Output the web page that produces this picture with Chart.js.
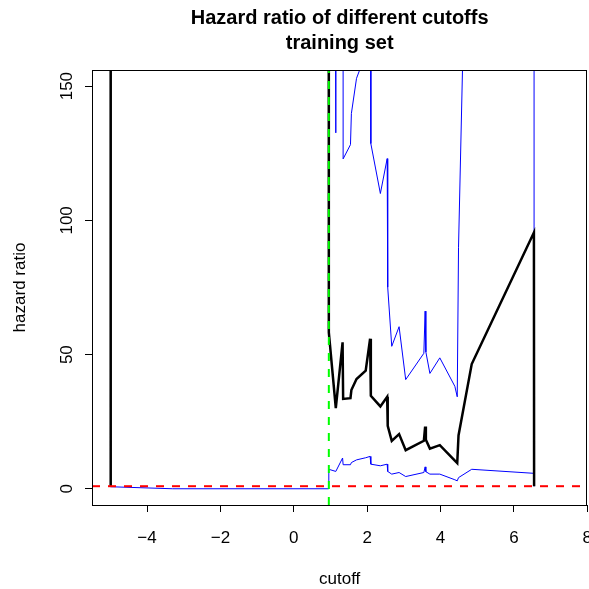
<!DOCTYPE html>
<html><head><meta charset="utf-8">
<script src="https://cdn.jsdelivr.net/npm/chart.js@4/dist/chart.umd.min.js"></script>
<style>html,body{margin:0;padding:0;background:#fff}#wrap{width:589px;height:589px}</style>
</head><body><div id="wrap"><canvas id="c" width="589" height="589" style="width:589px;height:589px"></canvas></div>
<script>
// ---- data (1000 = far above the plotted range) ----
const cutoffs     = [-5.00, -4.99, -3.30, 0.94, 0.955, 1.145, 1.33, 1.345, 1.545, 1.57, 1.71, 1.96, 2.08, 2.10, 2.36, 2.545, 2.56, 2.67, 2.87, 3.05, 3.545, 3.58, 3.60, 3.71, 3.98, 4.39, 4.455, 4.49, 4.85, 6.545, 6.55];
const hazardRatio = [1000, 1.0, null, 1000, 58.3, 30.1, 54.6, 33.5, 33.8, 36.8, 40.9, 44.0, 55.9, 34.7, 30.7, 34.3, 23.5, 17.9, 20.4, 14.4, 17.9, 23.2, 18.3, 15.0, 16.3, 10.5, 9.6, 19.9, 46.5, 95.5, 1.0];
const lowerCI     = [0.8, 0.8, 0.05, 0.05, 7.3, 6.5, 11.5, 9.0, 9.0, 9.8, 10.8, 11.6, 12.1, 9.2, 8.6, 9.2, 6.5, 5.5, 6.1, 4.6, 6.1, 8.2, 6.4, 5.5, 5.5, 3.4, 3.0, 4.2, 7.3, 5.8, 1.0];
const upperCI     = [1000, 1000, 1000, 1000, 1000, 132.6, 1000, 122.9, 128.2, 139.8, 152.9, 162, 1000, 128.6, 110, 123, 75.1, 53.1, 60.4, 40.7, 50.5, 66.2, 51.0, 43.0, 48.8, 38.2, 34.3, 90, 310, 1000, 1.0];
const xTickValues = [-4, -2, 0, 2, 4, 6, 8];
const yTickValues = [0, 50, 100, 150];
const referenceHR = 1;
const bestCutoff = 0.955;
const titleLines = ['Hazard ratio of different cutoffs', 'training set'];
const xLabel = 'cutoff';
const yLabel = 'hazard ratio';

const FONT = "'Liberation Sans', Arial, Helvetica, sans-serif";
const pts = arr => cutoffs.map((c, i) => ({x: c, y: arr[i]}));

const boxPlugin = {
  id: 'boxAndRefs',
  afterDatasetsDraw(chart) {
    const {ctx, chartArea: a, scales: {x, y}} = chart;
    ctx.save();
    ctx.beginPath(); ctx.rect(a.left, a.top, a.right - a.left, a.bottom - a.top); ctx.clip();
    const gx = x.getPixelForValue(bestCutoff);
    ctx.strokeStyle = '#00FF00'; ctx.lineWidth = 2; ctx.setLineDash([8, 8]);
    ctx.beginPath(); ctx.moveTo(gx, a.bottom); ctx.lineTo(gx, a.top); ctx.stroke();
    const ry = y.getPixelForValue(referenceHR);
    ctx.strokeStyle = '#FF0000';
    ctx.beginPath(); ctx.moveTo(a.left, ry); ctx.lineTo(a.right, ry); ctx.stroke();
    ctx.restore();
  },
  afterDraw(chart) {
    const {ctx, chartArea: a, scales: {y}} = chart;
    ctx.save();
    ctx.strokeStyle = '#000'; ctx.lineWidth = 1; ctx.setLineDash([]);
    ctx.strokeRect(Math.round(a.left) + 0.5, Math.round(a.top) + 0.5,
                   Math.round(a.right - a.left) - 1, Math.round(a.bottom - a.top));
    ctx.fillStyle = '#000';
    ctx.font = '17px ' + FONT;
    ctx.textAlign = 'center'; ctx.textBaseline = 'alphabetic';
    yTickValues.forEach(v => {
      const py = y.getPixelForValue(v);
      ctx.save(); ctx.translate(72, py); ctx.rotate(-Math.PI / 2);
      ctx.fillText(String(v), 0, 0); ctx.restore();
    });
    const cx = (a.left + a.right) / 2;
    ctx.font = 'bold 20px ' + FONT;
    ctx.fillText(titleLines[0], cx, 24);
    ctx.fillText(titleLines[1], cx, 49);
    ctx.restore();
  }
};

new Chart(document.getElementById('c'), {
  type: 'line',
  data: {
    datasets: [
      {label: 'HR', data: pts(hazardRatio), borderColor: '#000', borderWidth: 2.5, pointRadius: 0, tension: 0, spanGaps: false},
      {label: 'lower', data: pts(lowerCI), borderColor: '#0000FF', borderWidth: 1, pointRadius: 0, tension: 0},
      {label: 'upper', data: pts(upperCI), borderColor: '#0000FF', borderWidth: 1, pointRadius: 0, tension: 0}
    ]
  },
  options: {
    responsive: false, animation: false, devicePixelRatio: 1,
    layout: {padding: {left: 0, right: 1.7, top: 70, bottom: 0}},
    plugins: {legend: {display: false}, tooltip: {enabled: false}, title: {display: false}},
    elements: {line: {borderJoinStyle: 'miter', borderCapStyle: 'butt'}},
    scales: {
      x: {
        type: 'linear', min: -5.5, max: 8,
        afterBuildTicks: s => { s.ticks = xTickValues.map(v => ({value: v})); },
        afterFit: s => { s.height = 84; s.paddingLeft = 0; s.paddingRight = 0; },
        ticks: {autoSkip: false, maxRotation: 0, color: '#000', font: {family: FONT, size: 17}, padding: 16,
                callback: v => String(v).replace('-', '\u2212')},
        grid: {drawOnChartArea: false, drawTicks: true, tickLength: 7, color: '#000', tickColor: '#000'},
        border: {display: false},
        title: {display: true, text: xLabel, color: '#000', font: {family: FONT, size: 17}, padding: {top: 0, bottom: -1}}
      },
      y: {
        type: 'linear', min: -6, max: 156,
        afterBuildTicks: s => { s.ticks = yTickValues.map(v => ({value: v})); },
        afterFit: s => { s.width = 92; s.paddingTop = 0; s.paddingBottom = 0; },
        ticks: {display: false},
        grid: {drawOnChartArea: false, drawTicks: true, tickLength: 7, color: '#000', tickColor: '#000'},
        border: {display: false},
        title: {display: true, text: yLabel, color: '#000', font: {family: FONT, size: 17}, padding: {top: 10, bottom: 0}}
      }
    }
  },
  plugins: [boxPlugin]
});
</script></body></html>
